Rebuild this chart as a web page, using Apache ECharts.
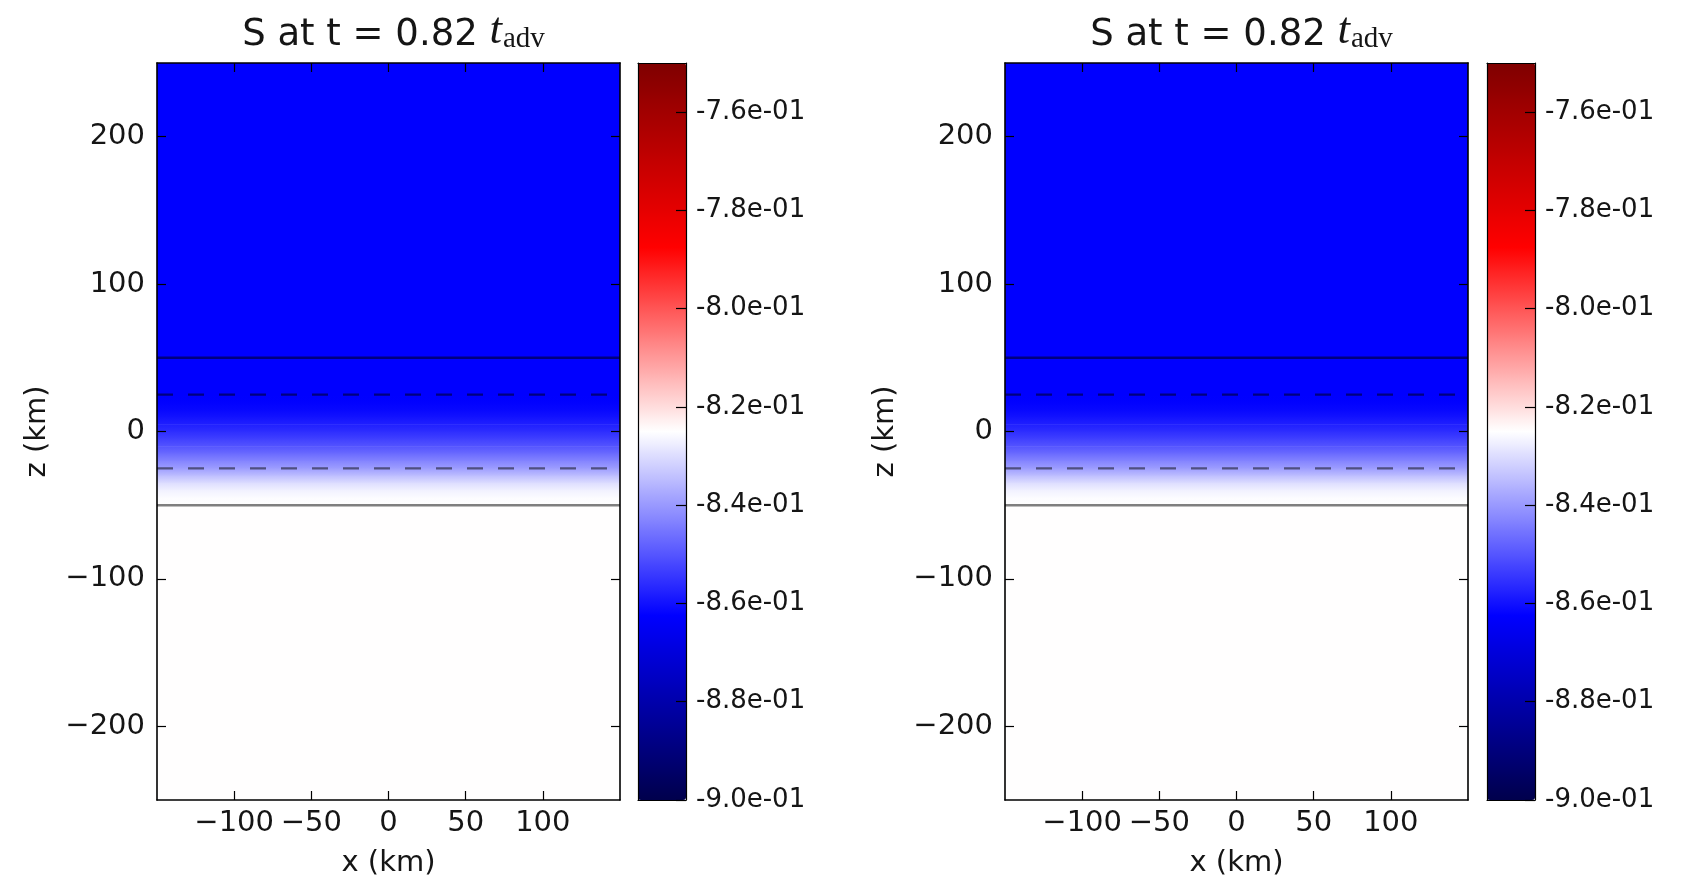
<!DOCTYPE html>
<html>
<head>
<meta charset="utf-8">
<script src="https://cdn.jsdelivr.net/npm/echarts@6/dist/echarts.min.js"></script>
<style>
  html, body { margin: 0; padding: 0; background: #ffffff; }
  #chart { width: 1696px; height: 882px; }
</style>
</head>
<body>
<div id="chart"></div>
<script>
// ---- data ----
const titleMain = 'S at t = 0.82 ';
const titleSym = 't';
const titleSub = 'adv';
const xName = 'x (km)';
const zName = 'z (km)';

const xRange = [-150, 150];
const zRange = [-250, 250];
const sRange = [-0.90, -0.75];

const xTicks = [-100, -50, 0, 50, 100];
const zTicks = [-200, -100, 0, 100, 200];
const cbTicks = [-0.90, -0.88, -0.86, -0.84, -0.82, -0.80, -0.78, -0.76];

// vertical profile of S (field is horizontally uniform)
const zNodes = [250, 50, 25, 20, 15, 10, 5, 0, -5, -10, -15, -20, -25, -30, -35, -40, -45, -50, -250];
const sLeft  = [-0.8625, -0.8625, -0.8625, -0.8623, -0.8614, -0.8599, -0.8580, -0.8558, -0.8531, -0.8501,
                -0.8468, -0.8430, -0.8393, -0.8344, -0.8299, -0.8269, -0.8254, -0.8249, -0.8248];
const sRight = [-0.8625, -0.8625, -0.8625, -0.8623, -0.8614, -0.8599, -0.8580, -0.8558, -0.8531, -0.8501,
                -0.8468, -0.8430, -0.8393, -0.8344, -0.8299, -0.8269, -0.8254, -0.8249, -0.8248];

const solidLevels = [50, -50];
const dashedLevels = [25, -25];

// seismic colormap
const seismic = ['#00004c', '#0000ff', '#ffffff', '#ff0000', '#7f0000'];

// ---- helpers ----
function hexToRgb(h) {
  return [parseInt(h.slice(1, 3), 16), parseInt(h.slice(3, 5), 16), parseInt(h.slice(5, 7), 16)];
}
const seisRgb = seismic.map(hexToRgb);
function cmap(v) {
  let t = (v - sRange[0]) / (sRange[1] - sRange[0]);
  t = Math.max(0, Math.min(1, t));
  const n = seisRgb.length - 1;
  let i = Math.min(n - 1, Math.floor(t * n));
  const f = t * n - i;
  const a = seisRgb[i], b = seisRgb[i + 1];
  const c = a.map((x, k) => Math.round(x + (b[k] - x) * f));
  return 'rgb(' + c.join(',') + ')';
}
function bands(s) {
  const out = [];
  for (let i = 0; i < zNodes.length - 1; i++) {
    out.push([zNodes[i + 1], zNodes[i], s[i + 1], s[i]]);
  }
  return out;
}
function minusFmt(v) {
  return v < 0 ? '\u2212' + Math.abs(v) : String(v);
}
function expFmt(v) {
  return v.toExponential(1).replace(/e([+-])(\d)$/, 'e$10$2');
}

const FONT = 'DejaVu Sans';
const TXT = '#151515';
const PANELS = [
  { left: 157, cbLeft: 638, s: sLeft },
  { left: 1005, cbLeft: 1487, s: sRight }
];
const TOP = 63, H = 737, W = 463, CBW = 48;

const grid = [], xAxis = [], yAxis = [], series = [], visualMap = [], title = [];

const lineCommon = { show: true, onZero: false, lineStyle: { color: '#000', width: 1.6 } };
const cbLine = { show: true, onZero: false, lineStyle: { color: '#000', width: 1.2 } };
const tickStyle = { color: '#000', width: 1.2 };

PANELS.forEach((p, k) => {
  const gi = grid.length;
  grid.push({ left: p.left, top: TOP, width: W, height: H, containLabel: false, outerBoundsMode: 'none' });
  const gc = grid.length;
  grid.push({ left: p.cbLeft, top: TOP, width: CBW, height: H, containLabel: false, outerBoundsMode: 'none' });

  const xb = xAxis.length;
  xAxis.push({
    gridIndex: gi, type: 'value', position: 'bottom', min: xRange[0], max: xRange[1], z: 10,
    axisLine: lineCommon, splitLine: { show: false },
    axisTick: { show: true, inside: true, length: 9, customValues: xTicks, lineStyle: tickStyle },
    axisLabel: { show: true, customValues: xTicks, formatter: minusFmt, margin: 9,
      fontFamily: FONT, fontSize: 29, color: TXT },
    name: xName, nameLocation: 'middle', nameGap: 49,
    nameTextStyle: { fontFamily: FONT, fontSize: 29, color: TXT }
  });
  xAxis.push({
    gridIndex: gi, type: 'value', position: 'top', min: xRange[0], max: xRange[1], z: 10,
    axisLine: lineCommon, splitLine: { show: false },
    axisTick: { show: true, inside: true, length: 9, customValues: xTicks, lineStyle: tickStyle },
    axisLabel: { show: false }
  });
  const yl = yAxis.length;
  yAxis.push({
    gridIndex: gi, type: 'value', position: 'left', min: zRange[0], max: zRange[1], z: 10,
    axisLine: lineCommon, splitLine: { show: false },
    axisTick: { show: true, inside: true, length: 9, customValues: zTicks, lineStyle: tickStyle },
    axisLabel: { show: true, customValues: zTicks, formatter: minusFmt, margin: 12,
      fontFamily: FONT, fontSize: 29, color: TXT },
    name: zName, nameLocation: 'middle', nameGap: 105, nameRotate: 90,
    nameTextStyle: { fontFamily: FONT, fontSize: 29, color: TXT }
  });
  yAxis.push({
    gridIndex: gi, type: 'value', position: 'right', min: zRange[0], max: zRange[1], z: 10,
    axisLine: lineCommon, splitLine: { show: false },
    axisTick: { show: true, inside: true, length: 9, customValues: zTicks, lineStyle: tickStyle },
    axisLabel: { show: false }
  });

  // colorbar frame + ticks
  xAxis.push({ gridIndex: gc, type: 'value', position: 'bottom', min: 0, max: 1, z: 10,
    axisLine: cbLine, axisTick: { show: false }, axisLabel: { show: false }, splitLine: { show: false } });
  xAxis.push({ gridIndex: gc, type: 'value', position: 'top', min: 0, max: 1, z: 10,
    axisLine: cbLine, axisTick: { show: false }, axisLabel: { show: false }, splitLine: { show: false } });
  yAxis.push({ gridIndex: gc, type: 'value', position: 'left', min: sRange[0], max: sRange[1], z: 10,
    axisLine: cbLine, axisTick: { show: false }, axisLabel: { show: false }, splitLine: { show: false } });
  yAxis.push({ gridIndex: gc, type: 'value', position: 'right', min: sRange[0], max: sRange[1], z: 10,
    axisLine: cbLine,
    axisTick: { show: true, inside: true, length: 10, customValues: cbTicks, lineStyle: tickStyle },
    axisLabel: { show: true, customValues: cbTicks, formatter: expFmt, margin: 10,
      fontFamily: FONT, fontSize: 26, color: TXT },
    splitLine: { show: false } });

  const si = series.length;
  series.push({
    type: 'custom', xAxisIndex: xb, yAxisIndex: yl, silent: true, z: 2,
    data: bands(p.s),
    renderItem: function (params, api) {
      const zb = api.value(0), zt = api.value(1), sb = api.value(2), st = api.value(3);
      const p1 = api.coord([xRange[0], zt]);
      const p2 = api.coord([xRange[1], zb]);
      return {
        type: 'rect',
        shape: { x: p1[0], y: p1[1], width: p2[0] - p1[0], height: p2[1] - p1[1] + 0.6 },
        style: {
          fill: new echarts.graphic.LinearGradient(0, 0, 0, 1, [
            { offset: 0, color: cmap(st) }, { offset: 1, color: cmap(sb) }
          ])
        }
      };
    }
  });
  visualMap.push({
    type: 'continuous', seriesIndex: si, dimension: 2,
    min: sRange[0], max: sRange[1], calculable: false, hoverLink: false,
    left: p.cbLeft, top: TOP, itemWidth: CBW, itemHeight: H, padding: 0,
    inRange: { color: seismic }, textStyle: { color: 'transparent' }
  });

  solidLevels.forEach(lv => {
    series.push({ type: 'line', xAxisIndex: xb, yAxisIndex: yl, silent: true, z: 5,
      data: [[xRange[0], lv], [xRange[1], lv]], symbol: 'none', animation: false,
      lineStyle: { color: 'rgba(0,0,0,0.5)', width: 2.4, type: 'solid' } });
  });
  dashedLevels.forEach(lv => {
    series.push({ type: 'line', xAxisIndex: xb, yAxisIndex: yl, silent: true, z: 5,
      data: [[xRange[0], lv], [xRange[1], lv]], symbol: 'none', animation: false,
      lineStyle: { color: 'rgba(0,0,0,0.5)', width: 2.4, type: [16, 15] } });
  });

  title.push({
    text: '{n|' + titleMain + '}{t|' + titleSym + '}{s|' + titleSub + '}',
    left: p.left + W / 2, top: 1, textAlign: 'center',
    textStyle: {
      fontWeight: 'normal',
      rich: {
        n: { fontFamily: FONT, fontWeight: 'normal', fontSize: 37, color: TXT, lineHeight: 48, verticalAlign: 'bottom' },
        t: { fontFamily: 'Liberation Serif', fontWeight: 'normal', fontStyle: 'italic', fontSize: 45, color: TXT, lineHeight: 48, verticalAlign: 'bottom' },
        s: { fontFamily: 'Liberation Serif', fontWeight: 'normal', fontSize: 29, color: TXT, lineHeight: 26, verticalAlign: 'bottom', padding: [0, 0, 0, 1] }
      }
    }
  });
});

const chart = echarts.init(document.getElementById('chart'), null, { renderer: 'canvas' });
chart.setOption({
  backgroundColor: '#ffffff',
  animation: false,
  title: title,
  grid: grid,
  xAxis: xAxis,
  yAxis: yAxis,
  visualMap: visualMap,
  series: series
});
</script>
</body>
</html>
